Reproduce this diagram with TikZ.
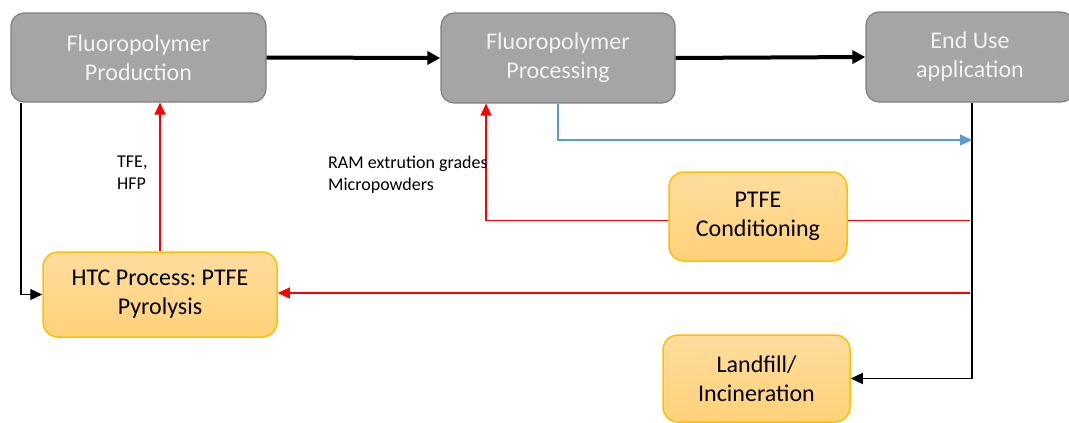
\documentclass[tikz,border=0pt]{standalone}
\usepackage{fontspec}
\setmainfont{Carlito}
\usetikzlibrary{arrows.meta}
\definecolor{boxgray}{HTML}{A5A5A5}
\definecolor{boxgrayline}{HTML}{808080}
\definecolor{boxtext}{HTML}{F2F2F2}
\definecolor{ambertop}{HTML}{FFDD9D}
\definecolor{amberbot}{HTML}{FFD27A}
\definecolor{amberline}{HTML}{FFC000}
\definecolor{flowblue}{HTML}{5B9BD5}

\begin{document}
\frenchspacing
\begin{tikzpicture}[x=1pt,y=-1pt,
  stage/.style={draw=boxgrayline, line width=1.2pt, fill=boxgray, rounded corners=13pt,
    text=boxtext, font=\fontsize{24}{29}\selectfont, align=center, inner sep=0pt},
  loopbox/.style={draw=amberline, line width=1.5pt, top color=ambertop, bottom color=amberbot,
    rounded corners=15pt, text=black, font=\fontsize{24}{29}\selectfont, align=center, inner sep=0pt},
  mainflow/.style={line width=4pt, -{Triangle[length=13pt,width=13pt]}},
  thinline/.style={line width=1.3pt},
  tip/.style={-{Triangle[length=12pt,width=11pt]}},
  note/.style={font=\fontsize{18}{21.5}\selectfont, align=left, inner sep=0pt, anchor=north west}]

\fill[white] (0,0) rectangle (1069,423);
\useasboundingbox (0,0) rectangle (1069,423);
\clip (0,0) rectangle (1069,423);

% process stages
\node[stage, minimum width=255pt, minimum height=89pt] (prod) at (138.5,57.5) {Fluoropolymer\\Production};
\node[stage, minimum width=234pt, minimum height=90pt] (proc) at (558,58) {Fluoropolymer\\Processing};
\node[stage, minimum width=208pt, minimum height=90pt] (use) at (970,57) {End Use\\application};

% end-of-life routes
\node[loopbox, minimum width=178pt, minimum height=89pt] (cond) at (758,216.5) {PTFE\\Conditioning};
\node[loopbox, minimum width=234pt, minimum height=85pt] (htc) at (160,294.5) {HTC Process: PTFE\\Pyrolysis};
\node[loopbox, minimum width=187pt, minimum height=87pt] (land) at (756.5,378.5) {Landfill/\\Incineration};

% helper points for the routed connectors
\coordinate (bus) at (972,0);
\coordinate (blueend) at (972,140);
\coordinate (redA) at (970,220.5);
\coordinate (redB) at (970,293);
\coordinate (procin) at (486,0);
\coordinate (prodout) at (21,0);

% main flow
\draw[mainflow] (prod.east) -- (proc.west);
\draw[mainflow] (proc.east) -- (use.west);

% waste stream from end use
\draw[thinline, tip] (use.south -| bus) |- (land.east);
\draw[thinline, flowblue, tip] (proc.south) |- (blueend);

% recycling loops
\draw[thinline, red] (redA) -- (cond.east |- redA);
\draw[thinline, red, tip] (cond.west |- redA) -| (proc.south -| procin);
\draw[thinline, red, tip] (redB) -- (htc.east |- redB);
\draw[thinline, red, tip] (htc.north) -- (prod.south -| htc.north);
\draw[thinline, tip] (prod.south -| prodout) |- (htc.west);

% stream labels
\node[note] (gas) at (117,156) {TFE,\\HFP};
\node[note] (grades) at (328,156) {RAM extrution grades\\Micropowders};
\end{tikzpicture}
\end{document}
